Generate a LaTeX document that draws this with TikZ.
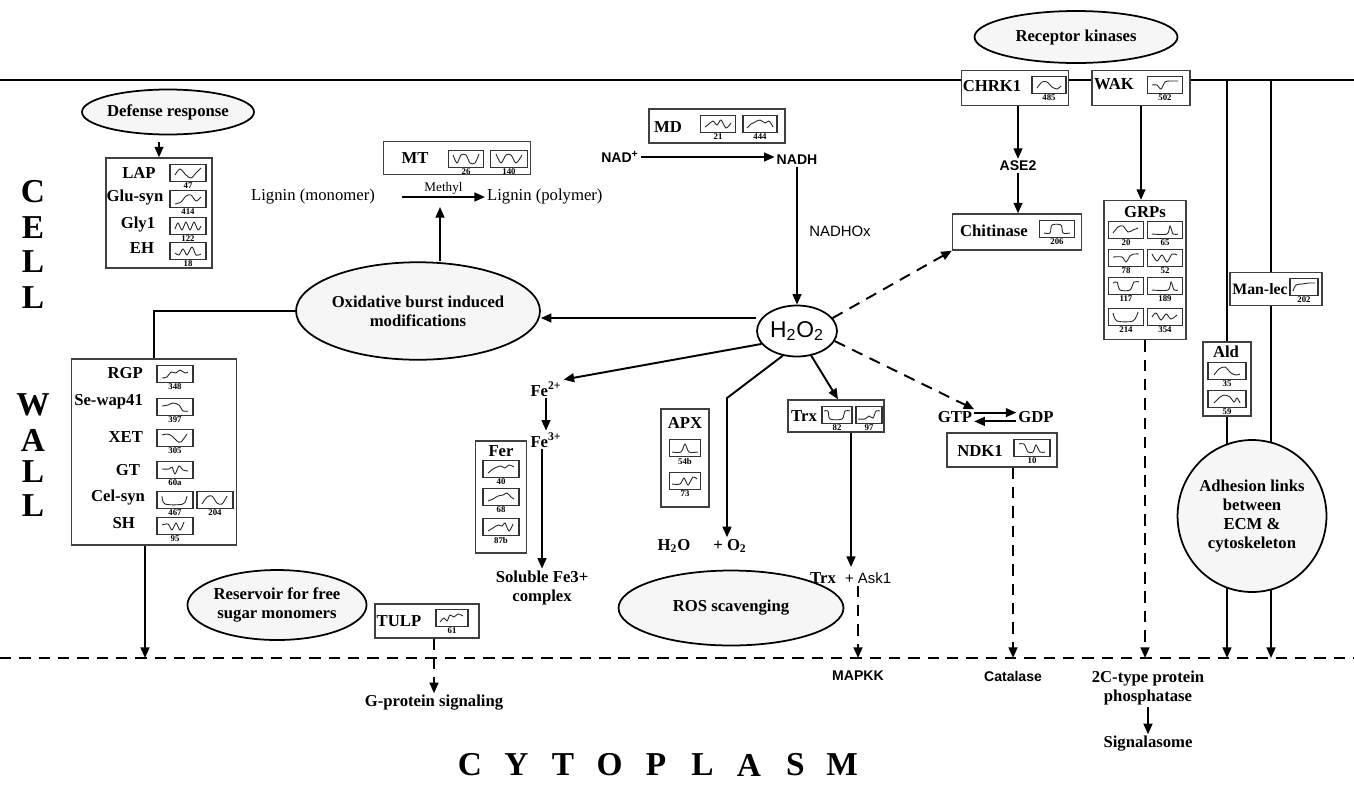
\documentclass[tikz,border=0pt]{standalone}
\usepackage{fontspec}
\setmainfont{Liberation Serif}
\setsansfont{Liberation Sans}
\usetikzlibrary{positioning,arrows.meta,shapes.geometric,calc}
\tikzset{
  gene/.style={draw=black!75, line width=0.8pt, fill=white, inner sep=0pt},
  mini/.style={draw=black!80, line width=0.7pt, fill=white, minimum height=0.34cm, inner sep=0pt},
  mininum/.style={font=\bfseries\fontsize{5}{5}\selectfont, inner sep=0.3pt, anchor=north},
  curve/.style={line width=0.5pt, black!85},
  lbl/.style={font=\bfseries\fontsize{9.5}{11}\selectfont, inner sep=1pt},
  lbltwo/.style={lbl, align=center},
  plain/.style={font=\fontsize{9.5}{11}\selectfont, inner sep=1pt},
  sflbl/.style={font=\sffamily\bfseries\fontsize{8}{10}\selectfont, inner sep=1pt},
  sfplain/.style={font=\sffamily\fontsize{8.5}{10}\selectfont, inner sep=1pt},
  oval/.style={ellipse, draw, line width=1pt, fill=gray!7, inner sep=0pt, align=center,
    font=\bfseries\fontsize{9.5}{11}\selectfont},
  arr/.style={-{Triangle[length=6pt,width=5pt]}, line width=1.1pt},
  darr/.style={arr, dash pattern=on 6.5pt off 4.5pt},
  dline/.style={line width=1.1pt, dash pattern=on 6.5pt off 4.5pt},
  big/.style={font=\bfseries\fontsize{19}{19}\selectfont, inner sep=0pt},
}
% small expression profile: name, centre, number, curve
\newcommand{\prof}[5][0.72cm]{%
  \node[mini, minimum width=#1] (#2) at (#3) {};
  \node[mininum] (#2n) at (#2.south) {#4};
  \draw[curve, shift={(#2.center)}] plot[smooth, tension=0.5] coordinates {#5};
}

\begin{document}
\begin{tikzpicture}[x=0.02cm, y=-0.02cm]
  \useasboundingbox (0,0) rectangle (1354,785);

  % membrane and cytoplasm border
  \coordinate (pmL) at (0,80);
  \coordinate (pmR) at (1354,80);
  \coordinate (dlL) at (0,658);
  \coordinate (dlR) at (1354,658);
  \draw[line width=1.3pt] (pmL) -- (pmR);
  \draw[dline] (dlL) -- (dlR);

  \foreach \l/\y [count=\i] in {C/192,E/228,L/262,L/298,W/405,A/440,L/472,L/506}
    \node[big] (cw\i) at (33,\y) {\l};
  \foreach \l [count=\i from 0] in {C,Y,T,O,P,L,A,S,M}
    \node[big] (cy\i) at (470+46.5*\i,765) {\l};

  % right side: adhesion links
  \coordinate (vA) at (1227,80);
  \coordinate (vB) at (1271,80);
  \draw[arr] (vA) -- (vA |- dlL);
  \draw[arr] (vB) -- (vB |- dlL);

  \node[oval, minimum width=2.56cm, minimum height=3.04cm] (adh) at (1252,516)
    {Adhesion links\\between\\ECM \&\\cytoskeleton};

  \node[gene, minimum width=1.84cm, minimum height=0.66cm] (manbox) at (1276,289) {};
  \node[lbl, font=\bfseries\fontsize{9}{11}\selectfont] (man) at (1260,289) {Man-lec};
  \prof[0.56cm]{pMan}{1304,287}{202}{(-11,4) (-8,-2) (-2,-3) (5,-4) (11,-4)}

  \node[gene, minimum width=0.96cm, minimum height=1.48cm] (aldbox) at (1227,379) {};
  \node[lbl] (ald) at (1226,352) {Ald};
  \prof[0.76cm]{pAldA}{1227,371}{35}{(-13,4) (-8,-2) (-2,-4) (4,2) (9,4) (13,3)}
  \prof[0.76cm]{pAldB}{1227,399}{59}{(-13,4) (-8,-1) (-3,-4) (3,-2) (7,3) (10,-1) (13,4)}

  % receptor kinases
  \node[oval, minimum width=4.06cm, minimum height=1.04cm] (rk) at (1076,37) {Receptor kinases};

  \node[gene, minimum width=2.14cm, minimum height=0.7cm] (chrkbox) at (1015,88) {};
  \node[lbl] (chrk) at (992,86) {CHRK1};
  \prof[0.68cm]{pChrk}{1049,85}{485}{(-12,3) (-7,-3) (-2,-3) (3,2) (8,4) (12,1)}

  \node[gene, minimum width=1.96cm, minimum height=0.7cm] (wakbox) at (1141,88) {};
  \node[lbl] (wak) at (1114,84) {WAK};
  \prof[0.7cm]{pWak}{1165,85}{502}{(-13,0) (-8,0) (-4,4) (0,-3) (5,-4) (13,-4)}

  \node[sflbl] (ase) at (1018,166) {ASE2};
  \draw[arr] (ase.north |- chrkbox.south) -- (ase.north);

  \node[gene, minimum width=2.58cm, minimum height=0.72cm] (chitbox) at (1017,232) {};
  \node[lbl] (chit) at (994,231) {Chitinase};
  \prof[0.7cm]{pChit}{1057,229}{206}{(-13,4) (-7,4) (-5,-4) (4,-4) (6,4) (13,4)}
  \draw[arr] (ase.south) -- (ase.south |- chitbox.north);

  % GRPs
  \node[gene, minimum width=1.64cm, minimum height=2.78cm] (grpbox) at (1145,270) {};
  \node[lbl] (grp) at (1145,212) {GRPs};
  \prof[0.7cm]{pG20}{1126,230}{20}{(-13,3) (-8,-3) (-3,-4) (2,2) (7,0) (12,-2)}
  \prof[0.7cm]{pG65}{1165,230}{65}{(-13,4) (2,4) (5,-4) (8,4) (13,4)}
  \prof[0.7cm]{pG78}{1126,258}{78}{(-13,-1) (-4,-1) (0,4) (4,-2) (8,-4) (13,-4)}
  \prof[0.7cm]{pG52}{1165,258}{52}{(-13,-4) (-8,3) (-3,-3) (2,4) (7,-4) (12,-3)}
  \prof[0.7cm]{pG117}{1126,286}{117}{(-13,-3) (-9,-4) (-6,4) (4,4) (8,-4) (13,-4)}
  \prof[0.7cm]{pG189}{1165,286}{189}{(-13,4) (3,4) (6,-4) (9,4) (13,4)}
  \prof[0.7cm]{pG214}{1126,317}{214}{(-13,-4) (-9,4) (7,4) (12,-5)}
  \prof[0.7cm]{pG354}{1165,317}{354}{(-13,0) (-9,-4) (-4,3) (1,-3) (6,2) (12,-2)}
  \draw[arr] (wakbox.south) -- (wakbox.south |- grpbox.north);
  \draw[darr] (grpbox.south) -- (grpbox.south |- dlL);

  \node[lbltwo] (ptc) at (1148,688) {2C-type protein\\phosphatase};
  \node[lbl] (sig) at (1148,744) {Signalasome};
  \draw[arr] (ptc.south) -- (sig.north);

  % NDK1
  \node[lbl] (gtp) at (955,417) {GTP};
  \node[lbl] (gdp) at (1036,417) {GDP};
  \draw[arr] ([yshift=2.5pt]gtp.east) -- ([yshift=2.5pt]gdp.west);
  \draw[arr] ([yshift=-2.5pt]gdp.west) -- ([yshift=-2.5pt]gtp.east);
  \node[gene, minimum width=2.2cm, minimum height=0.68cm] (ndkbox) at (1002,450) {};
  \node[lbl] (ndk) at (980,451) {NDK1};
  \prof[0.72cm]{pNdk}{1032,448}{10}{(-13,-4) (-8,-4) (-4,4) (1,4) (4,-3) (8,4) (13,4)}
  \node[sflbl] (cat) at (1013,676) {Catalase};
  \draw[darr] (cat.north |- ndkbox.south) -- (cat.north |- dlL);

  % H2O2 and NADH
  \node[gene, minimum width=2.72cm, minimum height=0.68cm] (mdbox) at (717,126) {};
  \node[lbl] (md) at (668,127) {MD};
  \prof[0.7cm]{pMdA}{718,124}{21}{(-13,3) (-9,0) (-5,-3) (-1,1) (3,-4) (8,4) (13,-1)}
  \prof[0.68cm]{pMdB}{760,124}{444}{(-13,4) (-9,0) (-5,-2) (0,-4) (5,-1) (9,-3) (13,3)}
  \node[sflbl] (nad) at (620,157) {NAD\textsuperscript{+}};
  \node[sflbl] (nadh) at (797,160) {NADH};
  \draw[arr] (nad.east) -- (nad.east -| nadh.west);

  \node[ellipse, draw, line width=1pt, fill=white, minimum width=1.6cm, minimum height=1.02cm,
    inner sep=0pt, font=\sffamily\fontsize{13}{14}\selectfont] (h2o2) at (797,331)
    {H\textsubscript{2}O\textsubscript{2}};
  \draw[arr] (nadh.south) -- (h2o2.north);
  \node[sfplain] (nadhox) at (840,231) {NADHOx};

  \draw[darr] (h2o2.20) -- (chitbox.south west);
  \draw[darr] (h2o2.-15) -- (gtp.north east);

  % lignin
  \node[gene, minimum width=2.94cm, minimum height=0.66cm] (mtbox) at (457,158) {};
  \node[lbl] (mt) at (415,158) {MT};
  \prof[0.7cm]{pMtA}{466,159}{26}{(-13,-4) (-9,4) (-5,-4) (0,-4) (4,4) (9,4) (13,-5)}
  \prof[0.74cm]{pMtB}{509,159}{140}{(-13,-5) (-8,4) (-3,-4) (2,-4) (7,4) (13,-4)}
  \node[plain] (lmono) at (313,197) {Lignin (monomer)};
  \node[plain, anchor=west] (lpoly) at (485,197) {Lignin (polymer)};
  \coordinate (mstart) at (402,197);
  \draw[arr] (mstart) -- (lpoly.west)
    node[midway, above, inner sep=1pt, font=\fontsize{7.5}{8}\selectfont] (methyl) {Methyl};
  \coordinate (mfoot) at (440,207);

  \node[oval, minimum width=3.8cm, minimum height=1.95cm] (ox) at (418,311)
    {Oxidative burst induced\\modifications};
  \draw[arr] (ox.north -| mfoot) -- (mfoot);
  \draw[arr] (h2o2.west |- 0,318) -- (ox.east |- 0,318);

  % defense response
  \node[oval, minimum width=3.34cm, minimum height=0.9cm] (def) at (168,112) {Defense response};
  \node[gene, minimum width=2.12cm, minimum height=2.2cm] (lapbox) at (159,213) {};
  \draw[arr, shorten <=4pt] (lapbox.north |- def.south) -- (lapbox.north);
  \node[lbl] (lap) at (139,173) {LAP};
  \node[lbl] (glu) at (135,198) {Glu-syn};
  \node[lbl] (gly) at (138,225) {Gly1};
  \node[lbl] (eh) at (142,248) {EH};
  \prof{pLap}{188,173}{47}{(-13,2) (-8,-4) (-2,2) (3,5) (8,0) (13,-5)}
  \prof{pGlu}{188,199}{414}{(-13,5) (-7,3) (-2,-3) (3,-4) (8,2) (13,-2)}
  \prof{pGly}{188,226}{122}{(-13,3) (-10,-3) (-6,4) (-2,-4) (2,4) (6,-4) (10,4) (13,0)}
  \prof{pEh}{188,251}{18}{(-13,2) (-9,4) (-5,-2) (-1,4) (4,-4) (8,4) (13,3)}

  % cell wall polysaccharides
  \node[gene, minimum width=3.3cm, minimum height=3.72cm] (bigbox) at (154,452) {};
  \draw[line width=1pt] (ox.west) -| (bigbox.north);
  \node[lbl, anchor=east] (rgp) at (145,373) {RGP};
  \node[lbl, anchor=east] (sew) at (145,402) {Se-wap41};
  \node[lbl, anchor=east] (xet) at (145,437) {XET};
  \node[lbl, anchor=east] (gt) at (142,470) {GT};
  \node[lbl, anchor=east] (cel) at (147,497) {Cel-syn};
  \node[lbl, anchor=east] (sh) at (137,523) {SH};
  \prof{pRgp}{175,374}{348}{(-13,4) (-8,3) (-4,-2) (1,-1) (5,-4) (10,-1) (13,-2)}
  \prof{pSew}{175,407}{397}{(-13,-1) (-7,-2) (-2,-4) (4,-2) (8,4) (13,4)}
  \prof{pXet}{175,438}{305}{(-13,-3) (-8,-4) (-3,-2) (2,3) (6,4) (12,-4)}
  \prof{pGt}{175,470}{60a}{(-13,-1) (-6,-1) (-3,-3) (0,4) (4,-4) (8,0) (13,1)}
  \prof{pCelA}{175,500}{467}{(-13,-4) (-10,4) (8,4) (12,-4)}
  \prof{pCelB}{215,500}{204}{(-13,4) (-8,-3) (-3,-4) (2,3) (7,4) (12,-4)}
  \prof{pSh}{175,526}{95}{(-13,-1) (-7,-2) (-3,4) (1,-3) (5,4) (9,-4)}
  \draw[arr] ([xshift=-0.18cm]bigbox.south) -- ([xshift=-0.18cm]bigbox.south |- dlL);

  \node[oval, minimum width=3.4cm, minimum height=1.4cm] (res) at (277,605)
    {Reservoir for free\\sugar monomers};

  % TULP
  \node[gene, minimum width=2.08cm, minimum height=0.68cm] (tulpbox) at (427,621) {};
  \node[lbl] (tulp) at (399,621) {TULP};
  \prof[0.64cm]{pTulp}{452,618}{61}{(-12,4) (-8,0) (-5,3) (-2,-3) (2,-1) (6,-4) (11,-2)}
  \node[lbl] (gps) at (434,703) {G-protein signaling};
  \draw[darr] (gps.north |- tulpbox.south) -- (gps.north);

  % iron
  \node[lbl] (fe2) at (546,389) {Fe\textsuperscript{2+}};
  \node[lbl] (fe3) at (546,440) {Fe\textsuperscript{3+}};
  \draw[arr] (h2o2.200) -- (fe2.north east);
  \draw[arr] (fe2.south) -- (fe3.north);
  \node[lbltwo] (sol) at (542,588) {Soluble Fe3+\\complex};
  \draw[arr] (fe3.south -| sol.north) -- (sol.north);
  \node[gene, minimum width=1.02cm, minimum height=2.24cm] (ferbox) at (501,497) {};
  \node[lbl] (fer) at (501,451) {Fer};
  \prof[0.72cm]{pFerA}{501,469}{40}{(-13,4) (-8,0) (-4,-2) (0,-3) (4,-1) (8,-4) (13,-2)}
  \prof[0.72cm]{pFerB}{501,497}{68}{(-13,4) (-8,2) (-3,-1) (2,-2) (6,-4) (10,0) (13,2)}
  \prof[0.72cm]{pFerC}{501,527}{87b}{(-13,4) (-8,1) (-3,-2) (1,-1) (4,-4) (8,4) (12,-3)}

  % scavenging
  \node[gene, minimum width=0.96cm, minimum height=1.96cm] (apxbox) at (685,458) {};
  \node[lbl] (apx) at (685,423) {APX};
  \prof[0.62cm]{pApxA}{685,448}{54b}{(-13,4) (-4,4) (0,-4) (4,4) (13,4)}
  \prof[0.62cm]{pApxB}{685,481}{73}{(-13,3) (-5,3) (-1,-3) (3,4) (8,-4) (12,-2)}
  \node[lbl] (h2o) at (674,546) {H\textsubscript{2}O};
  \node[lbl] (o2) at (730,546) {+ O\textsubscript{2}};
  \coordinate (hbend) at (727,398);
  \draw[arr] (h2o2.240) -- (hbend) -- (hbend |- o2.north);
  \node[oval, minimum width=4.5cm, minimum height=1.5cm] (ros) at (731,608) {ROS scavenging};

  % thioredoxin
  \node[gene, minimum width=1.92cm, minimum height=0.64cm] (trxbox) at (836,416) {};
  \node[lbl] (trx) at (804,416) {Trx};
  \prof[0.6cm]{pTrxA}{837,415}{82}{(-13,-4) (-9,-4) (-7,4) (5,4) (8,-4) (13,-4)}
  \prof[0.52cm]{pTrxB}{869,415}{97}{(-11,4) (-4,4) (0,1) (4,3) (7,-4) (11,-4)}
  \draw[arr] (h2o2.-60) -- (trxbox.north -| 838,0);
  \node[lbl] (trxb) at (823,578) {Trx};
  \node[sfplain, anchor=west] (ask) at (843,578) {+ Ask1};
  \coordinate (trxfoot) at (851,567);
  \draw[arr] (trxbox.south -| trxfoot) -- (trxfoot);
  \node[sflbl] (mapkk) at (858,676) {MAPKK};
  \draw[darr] (mapkk.north |- ask.south) -- (mapkk.north |- dlL);
\end{tikzpicture}
\end{document}
